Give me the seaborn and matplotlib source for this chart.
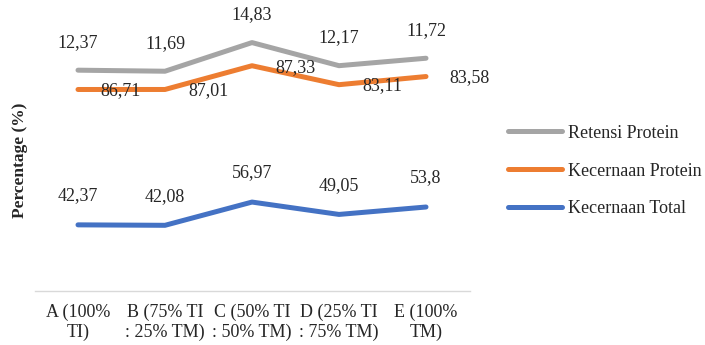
import numpy as np
import pandas as pd
import matplotlib
matplotlib.use("Agg")
import matplotlib.pyplot as plt
import seaborn as sns
from matplotlib.lines import Line2D

categories = ["A (100%\nTI)", "B (75% TI\n: 25% TM)", "C (50% TI\n: 50% TM)",
              "D (25% TI\n: 75% TM)", "E (100%\nTM)"]
kecernaan_total = [42.37, 42.08, 56.97, 49.05, 53.80]
kecernaan_protein = [86.71, 87.01, 87.33, 83.11, 83.58]
retensi_protein = [12.37, 11.69, 14.83, 12.17, 11.72]
label_total = ["42,37", "42,08", "56,97", "49,05", "53,8"]
label_protein = ["86,71", "87,01", "87,33", "83,11", "83,58"]
label_retensi = ["12,37", "11,69", "14,83", "12,17", "11,72"]

series_names = ["Retensi Protein", "Kecernaan Protein", "Kecernaan Total"]
colors = {"Retensi Protein": "#A5A5A5", "Kecernaan Protein": "#ED7D31",
          "Kecernaan Total": "#4472C4"}

# stacked line chart (cumulative values)
s_total = np.array(kecernaan_total)
s_protein = s_total + np.array(kecernaan_protein)
s_retensi = s_protein + np.array(retensi_protein)

x = np.arange(len(categories))
df = pd.concat([
    pd.DataFrame({"x": x, "y": s_retensi, "series": "Retensi Protein"}),
    pd.DataFrame({"x": x, "y": s_protein, "series": "Kecernaan Protein"}),
    pd.DataFrame({"x": x, "y": s_total, "series": "Kecernaan Total"}),
])

sns.set_theme(style="white")
plt.rcParams["font.family"] = ["Liberation Serif", "DejaVu Serif"]

fig = plt.figure(figsize=(7.05, 3.45), dpi=100)
ax = fig.add_axes([34.5 / 705, 54 / 345, 435 / 705, 281 / 345])

sns.lineplot(data=df, x="x", y="y", hue="series", hue_order=series_names,
             palette=colors, linewidth=3.6, ax=ax, legend=False,
             solid_capstyle="round", solid_joinstyle="round")

ax.set_xlim(-0.5, len(categories) - 0.5)
ax.set_ylim(0, 180)
ax.set_xticks(x)
ax.set_xticklabels(categories, fontsize=13, linespacing=1.2)
ax.tick_params(axis="x", length=0, pad=9)
ax.set_yticks([])
ax.set_xlabel("")
ax.set_ylabel("")
for s in ["top", "right", "left"]:
    ax.spines[s].set_visible(False)
ax.spines["bottom"].set_color("#D9D9D9")
ax.spines["bottom"].set_linewidth(1.0)

for i in range(len(categories)):
    ax.annotate(label_retensi[i], (x[i], s_retensi[i]), xytext=(0, 20),
                textcoords="offset points", ha="center", va="center", fontsize=13)
    ax.annotate(label_total[i], (x[i], s_total[i]), xytext=(0, 21),
                textcoords="offset points", ha="center", va="center", fontsize=13)
    ax.annotate(label_protein[i], (x[i], s_protein[i]), xytext=(31, -1),
                textcoords="offset points", ha="center", va="center", fontsize=13,
                annotation_clip=False)

fig.text(20 / 705, (345 - 160) / 345, "Percentage (%)", rotation=90,
         ha="center", va="center", fontsize=12.5, fontweight="bold")

handles = [Line2D([0], [0], color=colors[n], linewidth=3.6, solid_capstyle="round")
           for n in series_names]
fig.legend(handles, series_names, loc="center left",
           bbox_to_anchor=(508 / 705, (345 - 171) / 345), frameon=False,
           fontsize=13, handlelength=3.0, handletextpad=0.3, labelspacing=1.15,
           borderpad=0, borderaxespad=0)

fig.savefig("out.png", dpi=100)
